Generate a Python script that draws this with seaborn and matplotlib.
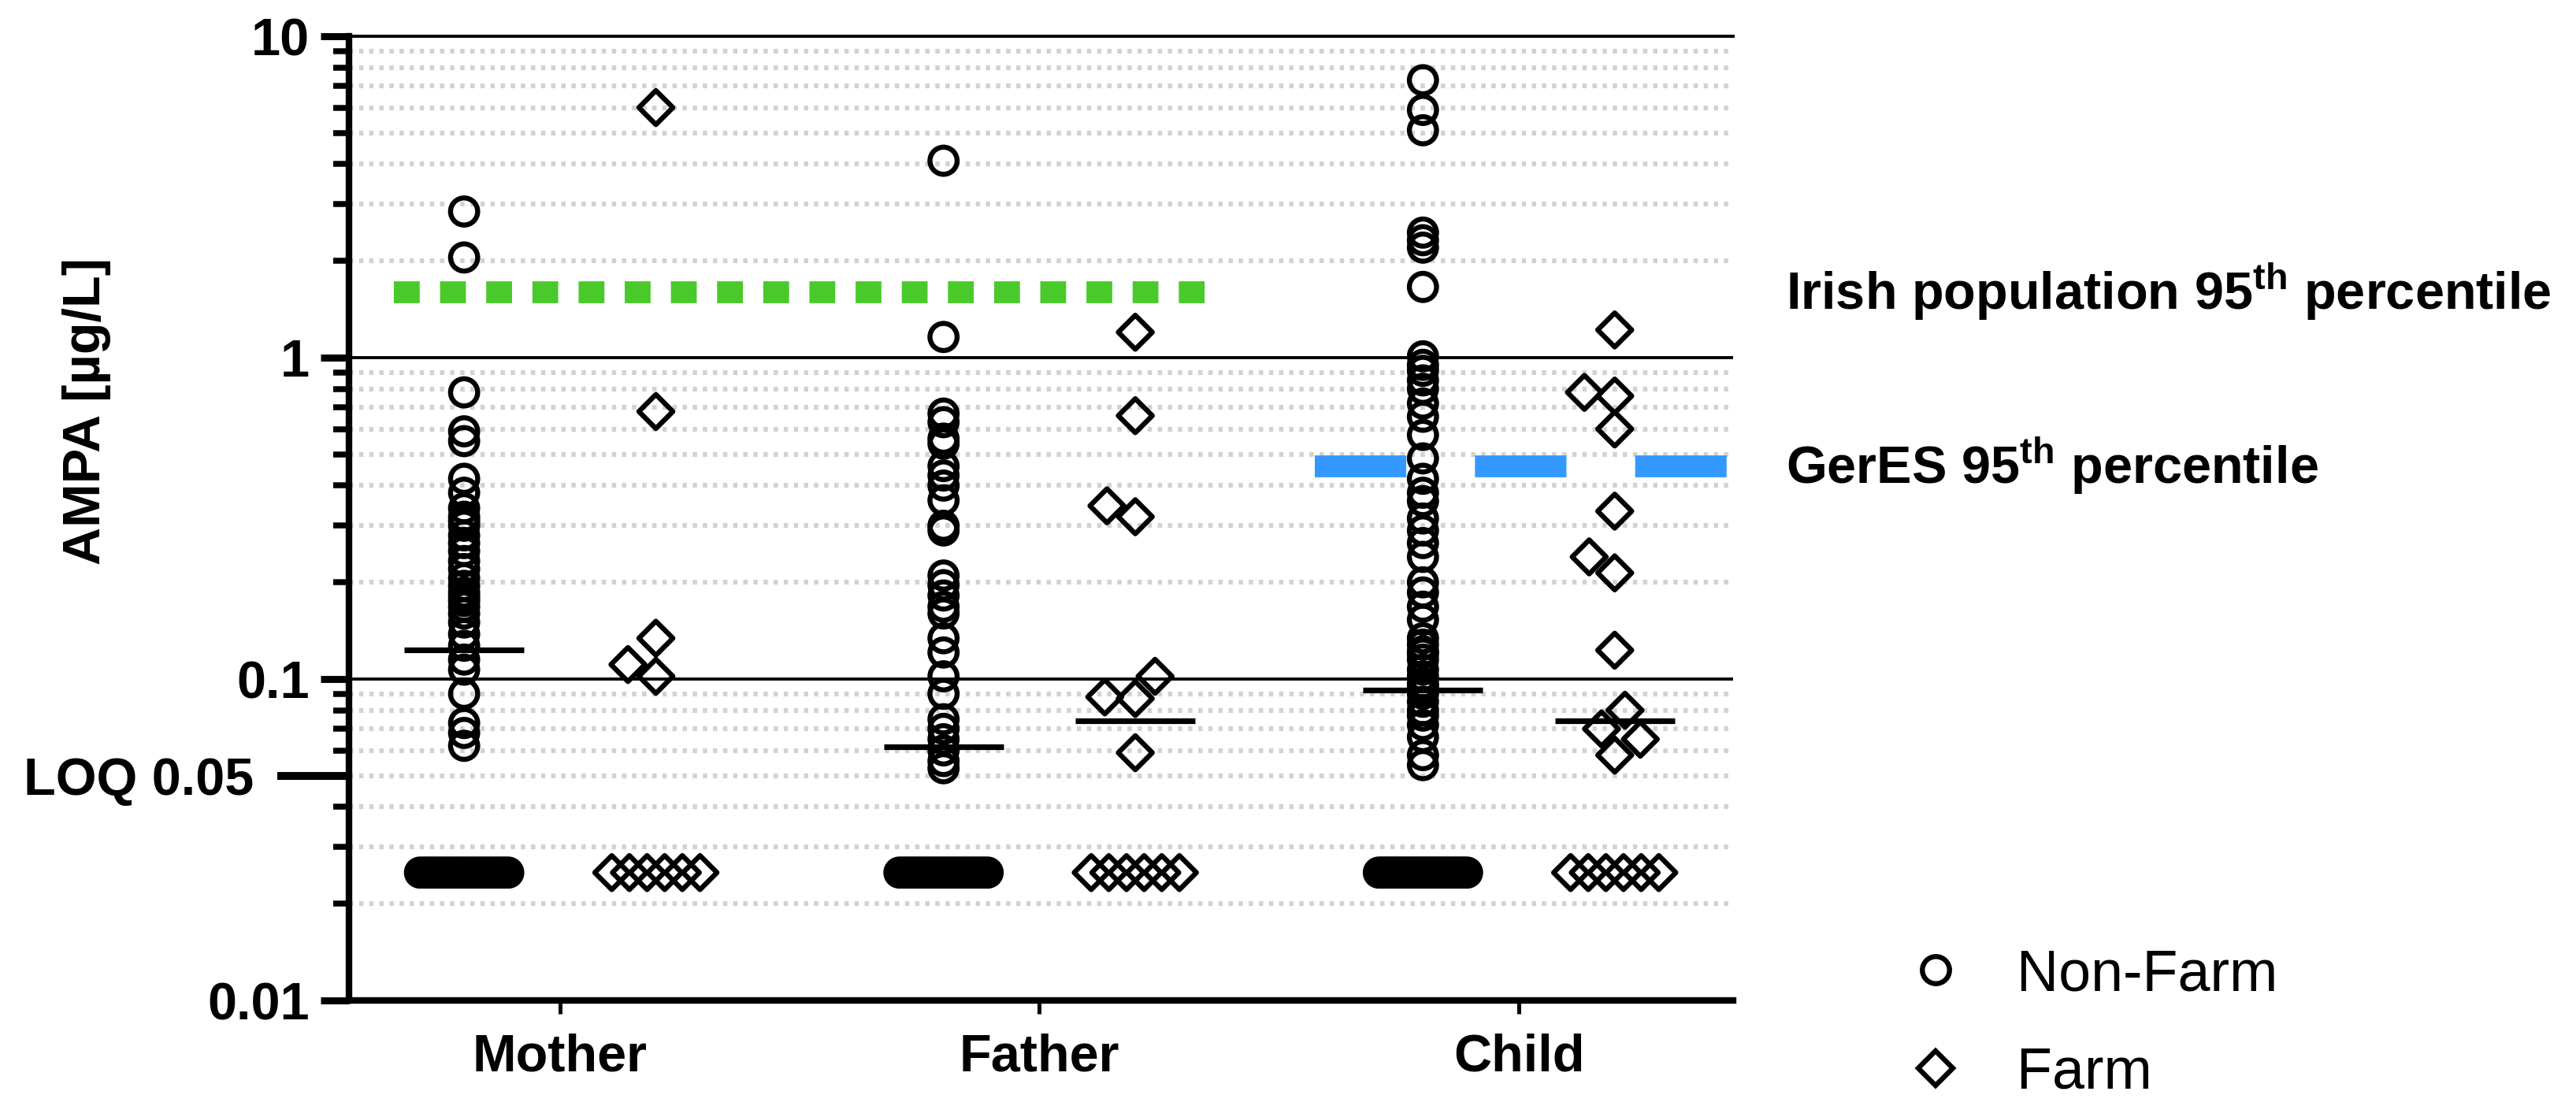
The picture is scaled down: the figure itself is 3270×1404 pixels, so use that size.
import numpy as np
import pandas as pd
import matplotlib.pyplot as plt
import seaborn as sns
from matplotlib.lines import Line2D
from matplotlib.ticker import LogLocator, NullFormatter, NullLocator

groups = ["Mother", "Father", "Child"]
farm_levels = ["Non-Farm", "Farm"]

# detected AMPA values (ug/L)
mother_nonfarm = [2.85, 2.05, 0.78, 0.59, 0.55, 0.42, 0.38, 0.34, 0.32, 0.31, 0.30, 0.28,
                  0.265, 0.25, 0.233, 0.22, 0.206, 0.195, 0.186, 0.18, 0.175, 0.168, 0.16,
                  0.15, 0.138, 0.127, 0.115, 0.107, 0.09, 0.073, 0.068, 0.062]
mother_farm = [6.0, 0.68, 0.134, 0.111, 0.102]
father_nonfarm = [4.1, 1.16, 0.67, 0.63, 0.56, 0.54, 0.46, 0.43, 0.40, 0.36, 0.30, 0.29,
                  0.21, 0.196, 0.182, 0.168, 0.16, 0.134, 0.121, 0.102, 0.09, 0.075, 0.07,
                  0.065, 0.06, 0.0556, 0.0528]
father_farm = [1.2, 0.66, 0.346, 0.32, 0.102, 0.088, 0.087, 0.059]
child_nonfarm = [7.3, 5.9, 5.1, 2.45, 2.32, 2.2, 1.66, 1.01, 0.95, 0.91, 0.85, 0.80, 0.72,
                 0.655, 0.575, 0.486, 0.42, 0.38, 0.358, 0.316, 0.29, 0.265, 0.24, 0.2,
                 0.186, 0.168, 0.153, 0.134, 0.128, 0.122, 0.12, 0.115, 0.107, 0.102,
                 0.097, 0.095, 0.092, 0.09, 0.085, 0.08, 0.077, 0.072, 0.066, 0.058, 0.054]
child_farm = [1.22, 0.78, 0.76, 0.60, 0.333, 0.24, 0.214, 0.123, 0.080, 0.070, 0.065, 0.058]

# samples below LOQ, shown at LOQ/2
nd_count_nonfarm = [21, 22, 25]
nd_count_farm = [6, 6, 6]
nd_value = 0.025

# group medians (Mother farm median lies in the <LOQ band, not drawn)
median_nonfarm = [0.123, 0.0615, 0.0925]
median_farm = [np.nan, 0.074, 0.074]

irish_p95 = 1.6
geres_p95 = 0.46
loq = 0.05

ytick_values = [0.01, 0.1, 1, 10]
ytick_labels = ["0.01", "0.1", "1", "10"]

detected = {
    ("Mother", "Non-Farm"): mother_nonfarm, ("Mother", "Farm"): mother_farm,
    ("Father", "Non-Farm"): father_nonfarm, ("Father", "Farm"): father_farm,
    ("Child", "Non-Farm"): child_nonfarm, ("Child", "Farm"): child_farm,
}
rows = []
for (g, f), vals in detected.items():
    rows += [(g, f, v, True) for v in vals]
for g, n_nf, n_f in zip(groups, nd_count_nonfarm, nd_count_farm):
    rows += [(g, "Non-Farm", nd_value, False)] * n_nf
    rows += [(g, "Farm", nd_value, False)] * n_f
df = pd.DataFrame(rows, columns=["group", "farm", "ampa", "detected"])

med_df = pd.DataFrame({"group": groups * 2,
                       "farm": ["Non-Farm"] * 3 + ["Farm"] * 3,
                       "ampa": median_nonfarm + median_farm}).dropna()

sns.set_style("white", {"axes.edgecolor": "black", "xtick.color": "black",
                        "ytick.color": "black", "text.color": "black"})
plt.rcParams['font.family'] = ['Liberation Sans', 'DejaVu Sans']
plt.rcParams['font.weight'] = 'bold'
plt.rcParams['mathtext.fontset'] = 'custom'
plt.rcParams['mathtext.rm'] = 'Liberation Sans'
plt.rcParams['mathtext.bf'] = 'Liberation Sans:bold'

fig = plt.figure(figsize=(16.35, 7.02), dpi=200)
ax = fig.add_axes([0.1355, 0.0954, 0.5373, 0.8718])
ax.set_yscale("log")

pal = {"Non-Farm": "black", "Farm": "black"}
marker_of = {"Non-Farm": "o", "Farm": "D"}
size_of = {"Non-Farm": 12.4, "Farm": 11.0}
edge_w = 2.3
common = dict(x="group", y="ampa", hue="farm", order=groups, hue_order=farm_levels,
              dodge=True, palette=pal, edgecolor="black", linewidth=edge_w, legend=False, ax=ax)

# detected values
sns.stripplot(data=df[df.detected & (df.farm == "Non-Farm")], jitter=False,
              marker="o", size=size_of["Non-Farm"], **common)
sns.swarmplot(data=df[df.detected & (df.farm == "Farm")],
              marker="D", size=size_of["Farm"], **common)

# <LOQ band, spread in a row like the original
band_half = 0.092
for g in groups:
    for f in farm_levels:
        sub = df[(~df.detected) & (df.group == g) & (df.farm == f)]
        n0 = len(ax.collections)
        sns.stripplot(data=sub, jitter=False, marker=marker_of[f], size=size_of[f], **common)
        for coll in ax.collections[n0:]:
            off = coll.get_offsets()
            if len(off) > 1:
                off[:, 0] = off[:, 0].mean() + np.linspace(-band_half, band_half, len(off))
                coll.set_offsets(off)

for coll in ax.collections:
    coll.set_facecolor("none")

# medians
sns.pointplot(data=med_df, x="group", y="ampa", hue="farm", order=groups, hue_order=farm_levels,
              dodge=0.4, markers="_", linestyles="none", palette=pal, errorbar=None,
              markersize=55, markeredgewidth=2.6, legend=False, ax=ax)

# reference percentiles
ax.axhline(irish_p95, xmin=0.0324, xmax=0.62, color="#4ac92b", lw=10,
           linestyle=(0, (1.18, 0.93)), dash_capstyle="butt", zorder=1.5)
ax.axhline(geres_p95, xmin=0.698, xmax=1.0, color="#3399ff", lw=10,
           linestyle=(0, (4.18, 3.14)), dash_capstyle="butt", zorder=1.5)

ax.set_xlim(-0.44, 2.447)
ax.set_ylim(0.01, 10)
ax.set_yticks(ytick_values, ytick_labels)
ax.yaxis.set_minor_locator(LogLocator(base=10, subs=np.arange(2, 10)))
ax.yaxis.set_minor_formatter(NullFormatter())
ax.tick_params(axis="y", which="major", left=True, length=13, width=3.2, labelsize=24, pad=5)
ax.tick_params(axis="y", which="minor", left=True, length=7.2, width=2.7)
ax.tick_params(axis="x", bottom=True, length=6, width=1.8, labelsize=24, pad=9)
ax.set_xlabel("")
ax.set_ylabel("")

ax.yaxis.grid(True, which="major", color="black", lw=1.4)
ax.yaxis.grid(True, which="minor", color="#d2d2d2", lw=2.2, linestyle=(0, (0.9, 1.2)))
ax.xaxis.grid(False)
ax.set_axisbelow(True)

for s in ["left", "bottom"]:
    ax.spines[s].set_linewidth(3)
ax.spines["top"].set_linewidth(1.4)
ax.spines["right"].set_visible(False)

# LOQ tick
sec = ax.secondary_yaxis("left")
sec.set_yticks([loq], ["LOQ 0.05"])
sec.yaxis.set_minor_locator(NullLocator())
sec.tick_params(axis="y", left=True, length=32.7, width=3.6, labelsize=24, pad=10.8)
sec.spines["left"].set_visible(False)

fig.text(0.0337, 0.628, "AMPA [µg/L]", rotation=90, ha="center", va="center",
         fontsize=24, fontweight="bold")

ax.text(1.038, irish_p95, r"Irish population 95$^{\mathbf{th}}$ percentile",
        transform=ax.get_yaxis_transform(), ha="left", va="center", fontsize=24, fontweight="bold")
ax.text(1.038, geres_p95, r"GerES 95$^{\mathbf{th}}$ percentile",
        transform=ax.get_yaxis_transform(), ha="left", va="center", fontsize=24, fontweight="bold")

handles = [Line2D([], [], marker="o", ls="none", ms=size_of["Non-Farm"], mfc="none", mec="black", mew=edge_w),
           Line2D([], [], marker="D", ls="none", ms=size_of["Farm"], mfc="none", mec="black", mew=edge_w)]
fig.legend(handles, farm_levels, loc="upper left", bbox_to_anchor=(0.740, 0.143), frameon=False,
           prop={"size": 26.5, "weight": "normal"}, handlelength=1.0, handletextpad=0.9,
           labelspacing=0.75, borderpad=0, borderaxespad=0)

fig.savefig("out.png", dpi=200)
